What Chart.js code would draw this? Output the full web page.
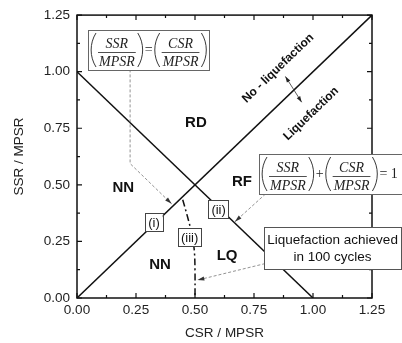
<!DOCTYPE html>
<html>
<head>
<meta charset="utf-8">
<script src="https://cdn.jsdelivr.net/npm/chart.js@4.4.1/dist/chart.umd.min.js"></script>
<style>
  html, body { margin: 0; padding: 0; background: #fff; }
  #chart { display: block; }
</style>
</head>
<body>
<canvas id="chart" width="402" height="343"></canvas>
<script>
// boundary lines, x = CSR/MPSR, y = SSR/MPSR
const equalCSR = [0, 1.25];
const equalSSR = [0, 1.25];
const sumCSR = [0, 1];
const sumSSR = [1, 0];
// liquefaction reached in 100 cycles
const lq100CSR = [0.448, 0.468, 0.486, 0.497, 0.5, 0.5];
const lq100SSR = [0.434, 0.36, 0.285, 0.21, 0.12, 0];

const tickLabels = ['0.00', '0.25', '0.50', '0.75', '1.00', '1.25'];

// region names
const regionNames = ['RD', 'NN', 'NN', 'RF', 'LQ'];
const regionCSR = [0.504, 0.196, 0.352, 0.699, 0.636];
const regionSSR = [0.776, 0.487, 0.145, 0.512, 0.185];

// small tags on the curves
const tagNames = ['(i)', '(ii)', '(iii)'];
const tagCSR = [0.326, 0.6, 0.477];
const tagSSR = [0.334, 0.392, 0.268];

function toPoints(xs, ys) {
    return xs.map((x, i) => ({ x: x, y: ys[i] }));
}

const SANS = 'Arial, "Liberation Sans", sans-serif';
const SERIF = '"Times New Roman", "Liberation Serif", serif';

function px(chart, x, y) {
    return [chart.scales.x.getPixelForValue(x), chart.scales.y.getPixelForValue(y)];
}

function drawArrowHead(ctx, fx, fy, tx, ty, len, wid, color) {
    const a = Math.atan2(ty - fy, tx - fx);
    ctx.save();
    ctx.fillStyle = color;
    ctx.translate(tx, ty);
    ctx.rotate(a);
    ctx.beginPath();
    ctx.moveTo(0, 0);
    ctx.lineTo(-len, -wid / 2);
    ctx.lineTo(-len, wid / 2);
    ctx.closePath();
    ctx.fill();
    ctx.restore();
}

// dashed gray pointer ending with an arrow head
function drawLeader(chart, pts) {
    const ctx = chart.ctx;
    const p = pts.map(q => px(chart, q[0], q[1]));
    ctx.save();
    ctx.strokeStyle = '#777';
    ctx.lineWidth = 0.8;
    ctx.setLineDash([3, 2]);
    ctx.beginPath();
    ctx.moveTo(p[0][0], p[0][1]);
    for (let i = 1; i < p.length; i++) ctx.lineTo(p[i][0], p[i][1]);
    ctx.stroke();
    ctx.restore();
    const n = p.length;
    drawArrowHead(ctx, p[n - 2][0], p[n - 2][1], p[n - 1][0], p[n - 1][1], 7, 4, '#333');
}

function drawParen(ctx, x, top, h, w, open) {
    ctx.beginPath();
    if (open) {
        ctx.moveTo(x + w, top);
        ctx.bezierCurveTo(x - w * 0.3, top + h * 0.3, x - w * 0.3, top + h * 0.7, x + w, top + h);
    } else {
        ctx.moveTo(x, top);
        ctx.bezierCurveTo(x + w * 1.3, top + h * 0.3, x + w * 1.3, top + h * 0.7, x, top + h);
    }
    ctx.stroke();
}

// boxed formula made of parentheses, fractions and operators
function drawFormula(chart, cx, cy, items) {
    const ctx = chart.ctx;
    ctx.save();
    ctx.font = 'italic 14px ' + SERIF;
    const parenW = 5, gap = 2;
    const widths = items.map(it => {
        if (it.paren) return parenW + gap;
        if (it.frac) return Math.max(ctx.measureText(it.frac[0]).width, ctx.measureText(it.frac[1]).width) + 2;
        ctx.font = '14px ' + SERIF;
        const w = ctx.measureText(it.op).width + 4;
        ctx.font = 'italic 14px ' + SERIF;
        return w;
    });
    const total = widths.reduce((a, b) => a + b, 0);
    const pad = 3, boxH = 40;
    const [bx, by] = px(chart, cx, cy);
    const left = Math.round(bx - total / 2 - pad);
    const top = Math.round(by - boxH / 2);
    ctx.fillStyle = '#fff';
    ctx.fillRect(left, top, total + pad * 2, boxH);
    ctx.strokeStyle = '#666';
    ctx.lineWidth = 1;
    ctx.strokeRect(left + 0.5, top + 0.5, Math.round(total + pad * 2), boxH);
    ctx.strokeStyle = '#222';
    ctx.fillStyle = '#222';
    let x = left + pad;
    const lineY = Math.round(by) + 2;
    items.forEach((it, i) => {
        const w = widths[i];
        if (it.paren === '(') {
            ctx.lineWidth = 0.9;
            drawParen(ctx, x, top + 3, boxH - 6, parenW, true);
        } else if (it.paren === ')') {
            ctx.lineWidth = 0.9;
            drawParen(ctx, x + gap, top + 3, boxH - 6, parenW, false);
        } else if (it.frac) {
            ctx.font = 'italic 14px ' + SERIF;
            ctx.textAlign = 'center';
            ctx.textBaseline = 'alphabetic';
            ctx.fillText(it.frac[0], x + w / 2, lineY - 4);
            ctx.fillText(it.frac[1], x + w / 2, lineY + 14);
            ctx.lineWidth = 0.8;
            ctx.beginPath();
            ctx.moveTo(x, lineY + 0.5);
            ctx.lineTo(x + w, lineY + 0.5);
            ctx.stroke();
        } else {
            ctx.font = '14px ' + SERIF;
            ctx.textAlign = 'center';
            ctx.textBaseline = 'middle';
            ctx.fillText(it.op, x + w / 2, by);
        }
        x += w;
    });
    ctx.restore();
}

const overlayPlugin = {
    id: 'overlay',
    afterDraw(chart) {
        const ctx = chart.ctx;
        const area = chart.chartArea;
        const xs = chart.scales.x, ys = chart.scales.y;

        // frame with inward ticks on all four sides
        ctx.save();
        ctx.strokeStyle = '#111';
        ctx.lineWidth = 1.5;
        ctx.strokeRect(area.left, area.top, area.right - area.left, area.bottom - area.top);
        ctx.lineWidth = 1.2;
        ctx.beginPath();
        xs.ticks.forEach(t => {
            const p = xs.getPixelForValue(t.value);
            const len = Math.abs(t.value / 0.25 - Math.round(t.value / 0.25)) < 1e-6 ? 5 : 3;
            ctx.moveTo(p, area.bottom); ctx.lineTo(p, area.bottom - len);
            ctx.moveTo(p, area.top); ctx.lineTo(p, area.top + len);
        });
        ys.ticks.forEach(t => {
            const p = ys.getPixelForValue(t.value);
            const len = Math.abs(t.value / 0.25 - Math.round(t.value / 0.25)) < 1e-6 ? 5 : 3;
            ctx.moveTo(area.left, p); ctx.lineTo(area.left + len, p);
            ctx.moveTo(area.right, p); ctx.lineTo(area.right - len, p);
        });
        ctx.stroke();
        ctx.restore();

        // region names
        ctx.save();
        ctx.fillStyle = '#111';
        ctx.font = 'bold 15px ' + SANS;
        ctx.textAlign = 'center';
        ctx.textBaseline = 'middle';
        regionNames.forEach((name, i) => {
            const [x, y] = px(chart, regionCSR[i], regionSSR[i]);
            ctx.fillText(name, x, y);
        });
        ctx.restore();

        // labels along the 1:1 line
        const ang = Math.atan2(ys.getPixelForValue(1) - ys.getPixelForValue(0),
                               xs.getPixelForValue(1) - xs.getPixelForValue(0));
        ctx.save();
        ctx.fillStyle = '#111';
        ctx.font = 'bold 12px ' + SANS;
        ctx.textAlign = 'center';
        ctx.textBaseline = 'middle';
        [['No - liquefaction', 0.852, 1.015], ['Liquefaction', 0.992, 0.814]].forEach(l => {
            const [x, y] = px(chart, l[1], l[2]);
            ctx.save();
            ctx.translate(x, y);
            ctx.rotate(ang);
            ctx.fillText(l[0], 0, 0);
            ctx.restore();
        });
        ctx.restore();

        // double arrow across the 1:1 line
        const a1 = px(chart, 0.883, 0.979), a2 = px(chart, 0.952, 0.865);
        ctx.save();
        ctx.strokeStyle = '#333';
        ctx.lineWidth = 0.8;
        ctx.beginPath();
        ctx.moveTo(a1[0], a1[1]);
        ctx.lineTo(a2[0], a2[1]);
        ctx.stroke();
        ctx.restore();
        drawArrowHead(ctx, a2[0], a2[1], a1[0], a1[1], 6, 4, '#222');
        drawArrowHead(ctx, a1[0], a1[1], a2[0], a2[1], 6, 4, '#222');

        // pointers
        drawLeader(chart, [[0.225, 1.01], [0.225, 0.594], [0.401, 0.416]]);
        drawLeader(chart, [[0.799, 0.46], [0.669, 0.337]]);
        drawLeader(chart, [[0.797, 0.152], [0.51, 0.079]]);

        // small boxed tags
        ctx.save();
        ctx.font = '13px ' + SANS;
        ctx.textAlign = 'center';
        ctx.textBaseline = 'middle';
        tagNames.forEach((name, i) => {
            const [x, y] = px(chart, tagCSR[i], tagSSR[i]);
            const w = ctx.measureText(name).width + 6, h = 18;
            ctx.fillStyle = '#fff';
            ctx.fillRect(x - w / 2, y - h / 2, w, h);
            ctx.strokeStyle = '#444';
            ctx.lineWidth = 1;
            ctx.strokeRect(Math.round(x - w / 2) + 0.5, Math.round(y - h / 2) + 0.5, Math.round(w), h);
            ctx.fillStyle = '#111';
            ctx.fillText(name, x, y + 1);
        });
        ctx.restore();

        // formula boxes
        drawFormula(chart, 0.305, 1.096, [
            { paren: '(' }, { frac: ['SSR', 'MPSR'] }, { paren: ')' }, { op: '=' },
            { paren: '(' }, { frac: ['CSR', 'MPSR'] }, { paren: ')' }
        ]);
        drawFormula(chart, 1.075, 0.548, [
            { paren: '(' }, { frac: ['SSR', 'MPSR'] }, { paren: ')' }, { op: '+' },
            { paren: '(' }, { frac: ['CSR', 'MPSR'] }, { paren: ')' }, { op: '= 1' }
        ]);

        // note box
        const [nx, ny] = px(chart, 1.083, 0.22);
        ctx.save();
        ctx.font = '13.5px ' + SANS;
        const nw = 137, nh = 42;
        ctx.fillStyle = '#fff';
        ctx.fillRect(nx - nw / 2, ny - nh / 2, nw, nh);
        ctx.strokeStyle = '#555';
        ctx.lineWidth = 1;
        ctx.strokeRect(Math.round(nx - nw / 2) + 0.5, Math.round(ny - nh / 2) + 0.5, nw, nh);
        ctx.fillStyle = '#111';
        ctx.textAlign = 'center';
        ctx.textBaseline = 'middle';
        ctx.fillText('Liquefaction achieved', nx, ny - 7.5);
        ctx.fillText('in 100 cycles', nx, ny + 9);
        ctx.restore();
    }
};

function axisOptions(title, isY) {
    return {
        type: 'linear',
        min: 0,
        max: 1.25,
        grid: { display: false, drawTicks: false },
        border: { display: false },
        ticks: {
            stepSize: 0.125,
            autoSkip: false,
            maxRotation: 0,
            padding: isY ? 7 : 4,
            color: '#222',
            font: { family: SANS, size: 13.5 },
            callback: function (value) {
                const k = Math.round(value / 0.25);
                return Math.abs(value - k * 0.25) < 1e-6 ? tickLabels[k] : '';
            }
        },
        title: {
            display: true,
            text: title,
            color: '#222',
            font: { family: SANS, size: 13.5 },
            padding: { top: isY ? 11 : 0, bottom: isY ? 0 : 2 }
        },
        afterFit: function (scale) {
            if (isY) scale.width = 77; else scale.height = 45;
        }
    };
}

new Chart(document.getElementById('chart'), {
    type: 'line',
    data: {
        datasets: [
            {
                data: toPoints(equalCSR, equalSSR),
                borderColor: '#111',
                borderWidth: 1.5,
                pointRadius: 0
            },
            {
                data: toPoints(sumCSR, sumSSR),
                borderColor: '#111',
                borderWidth: 1.5,
                pointRadius: 0
            },
            {
                data: toPoints(lq100CSR, lq100SSR),
                borderColor: '#111',
                borderWidth: 1.5,
                borderDash: [7, 3, 2, 3],
                tension: 0.35,
                pointRadius: 0
            }
        ]
    },
    options: {
        responsive: false,
        animation: false,
        devicePixelRatio: 1,
        layout: { padding: { top: 14, right: 30, left: 0, bottom: 0 } },
        plugins: {
            legend: { display: false },
            tooltip: { enabled: false }
        },
        scales: {
            x: axisOptions('CSR / MPSR', false),
            y: axisOptions('SSR / MPSR', true)
        }
    },
    plugins: [overlayPlugin]
});
</script>
</body>
</html>
